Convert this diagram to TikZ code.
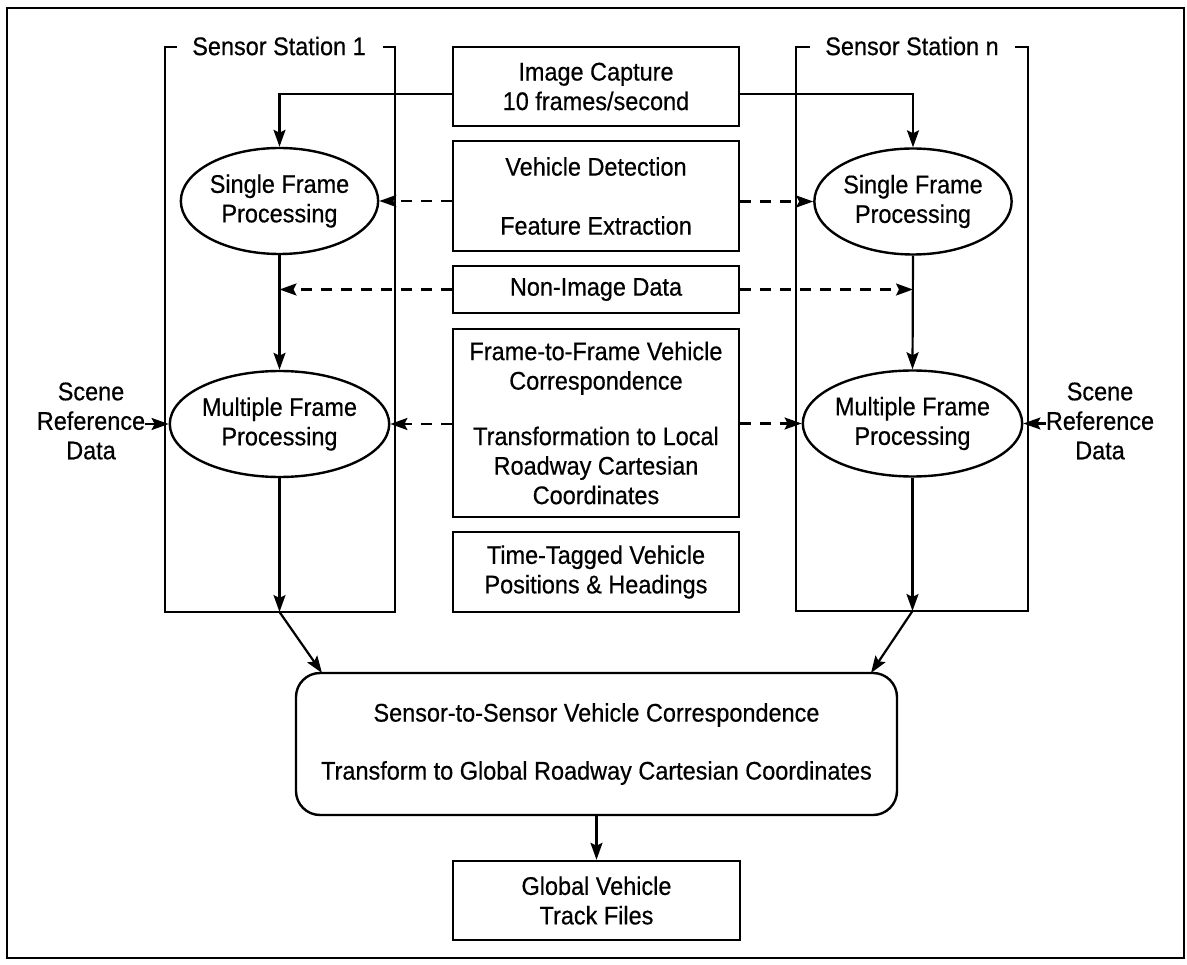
\documentclass[tikz,border=0pt]{standalone}
\usepackage{fontspec}
\setmainfont[FakeStretch=0.92,FakeBold=0.5]{Liberation Sans}
\usetikzlibrary{arrows.meta,shapes.geometric}
\tikzset{
  txt/.style={font=\fontsize{25.5}{29.5}\selectfont, align=center, inner sep=0pt},
  procbox/.style={txt, draw, line width=2.4pt, rectangle, minimum width=286pt},
  proc/.style={txt, draw, line width=2.4pt, ellipse, minimum width=183pt, minimum height=106pt},
  station/.style={line width=1.8pt},
  arr/.style={line width=2.2pt, -{Stealth[length=17pt,width=12pt,inset=3pt]}},
  darr/.style={arr, dash pattern=on 11pt off 9pt},
}
\begin{document}
\begin{tikzpicture}[x=1pt,y=-1pt]
\useasboundingbox (0,0) rectangle (1187,965);
% outer frame
\draw[line width=2.8pt] (7,8) rectangle (1184,958);

% sensor station boxes
\draw[station] (177,47) -- (165,47) -- (165,612) -- (395,612) -- (395,47) -- (383,47);
\node[txt] (st1) at (279,46) {Sensor Station 1};
\draw[station] (810,47) -- (796,47) -- (796,611) -- (1028,611) -- (1028,47) -- (1015,47);
\node[txt] (stn) at (912,46) {Sensor Station n};

% central boxes
\node[procbox, minimum height=79pt] (ic) at (596,86.5) {Image Capture\\10 frames/second};
\node[procbox, minimum height=110pt] (vd) at (596,196) {Vehicle Detection\\[29.5pt]Feature Extraction};
\node[procbox, minimum height=47pt] (ni) at (596,289.5) {Non-Image Data};
\node[procbox, minimum height=188pt] (ff) at (596,423) {Frame-to-Frame Vehicle\\Correspondence\\[26pt]Transformation to Local\\Roadway Cartesian\\Coordinates};
\node[procbox, minimum height=80pt] (tt) at (596,572) {Time-Tagged Vehicle\\Positions \& Headings};

% ellipses
\node[proc] (sf1) at (279.5,201) {Single Frame\\Processing};
\node[proc] (sfn) at (913,201.5) {Single Frame\\Processing};
\node[proc] (mf1) at (279.5,424) {Multiple Frame\\Processing};
\node[proc] (mfn) at (912.5,423.5) {Multiple Frame\\Processing};

% scene reference data
\node[txt] (sc1) at (91,421) {Scene\\Reference\\Data};
\node[txt] (scn) at (1100,421) {Scene\\Reference\\Data};

% bottom boxes
\node[txt, draw, line width=2.4pt, rectangle, rounded corners=24pt, minimum width=601pt, minimum height=142pt] (rb) at (596.5,744) {Sensor-to-Sensor Vehicle Correspondence\\[28.5pt]Transform to Global Roadway Cartesian Coordinates};
\node[procbox, minimum width=287pt, minimum height=79pt] (gv) at (596.5,900.5) {Global Vehicle\\Track Files};

% coordinates
\coordinate (icL) at (453,94);
\coordinate (icR) at (739,94);
\coordinate (b1) at (279.5,612);
\coordinate (bn) at (912.5,611);
\coordinate (r1) at (322,673);
\coordinate (rn) at (871,673);

% connectors
\draw[arr] (icL) -| (sf1.north);
\draw[arr] (icR) -| (sfn.north);
\draw[darr] (vd.west |- sf1.east) -- (sf1.east);
\draw[darr] (vd.east |- sfn.west) -- (sfn.west);
\draw[arr] (sf1.south) -- (mf1.north);
\draw[arr] (sfn.south) -- (mfn.north);
\draw[darr] (ni.west) -- (ni.west -| sf1.south);
\draw[darr] (ni.east) -- (ni.east -| sfn.south);
\draw[darr] (ff.west |- mf1.east) -- (mf1.east);
\draw[darr] (ff.east |- mfn.west) -- (mfn.west);
\draw[arr] (sc1.east |- mf1.west) -- (mf1.west);
\draw[arr] (scn.west |- mfn.east) -- (mfn.east);
\draw[arr] (mf1.south) -- (b1);
\draw[arr] (mfn.south) -- (bn);
\draw[arr] (b1) -- (r1);
\draw[arr] (bn) -- (rn);
\draw[arr] (rb.south) -- (gv.north);
\end{tikzpicture}
\end{document}
